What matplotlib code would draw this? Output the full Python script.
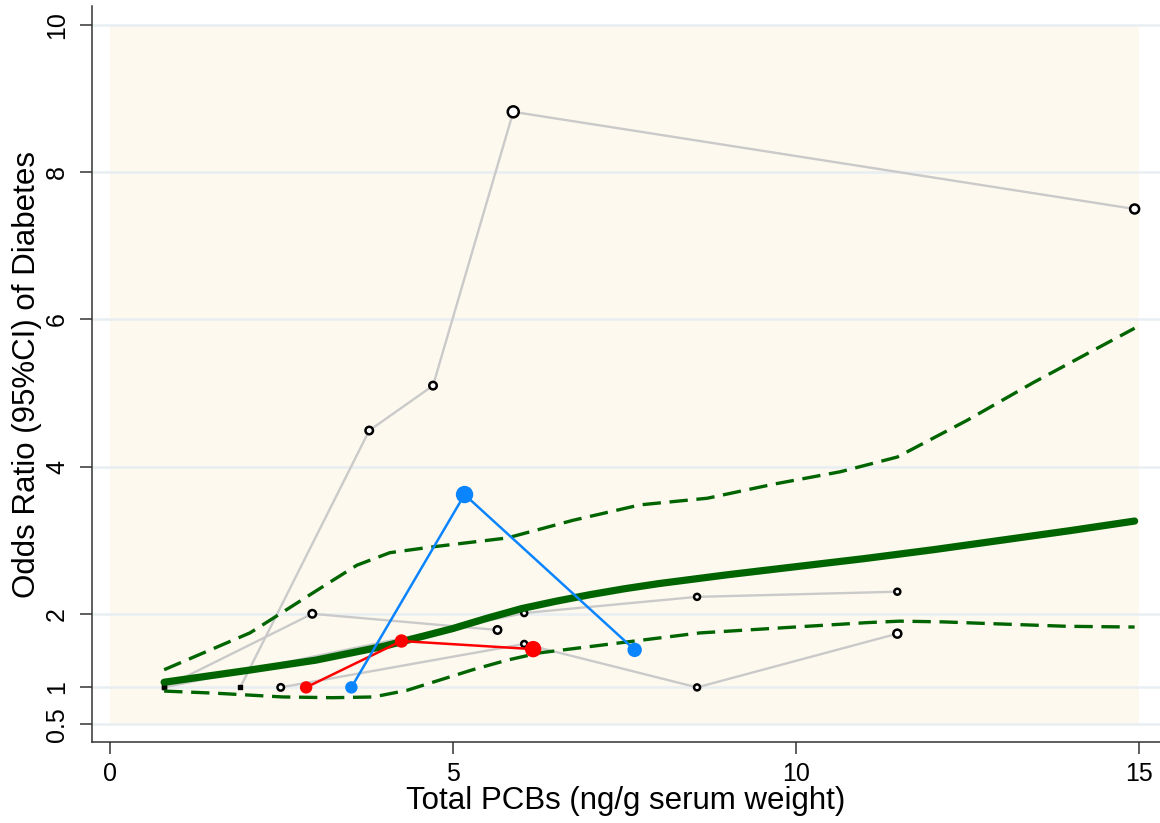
## Odds ratio of diabetes vs total PCBs
import numpy as np
import matplotlib.pyplot as plt
from matplotlib.patches import Rectangle

plt.rcParams['font.family'] = ['Liberation Sans', 'DejaVu Sans']

## gray study curves
s1_x = [1.90, 3.78, 4.71, 5.88, 14.94]
s1_y = [1.0, 4.49, 5.10, 8.82, 7.50]
s2_x = [0.79, 2.95, 5.65]
s2_y = [1.0, 2.0, 1.78]
s3_x = [0.79, 6.04, 8.56, 11.48]
s3_y = [1.0, 2.01, 2.23, 2.30]
s4_x = [2.49, 6.04, 8.56, 11.48]
s4_y = [1.0, 1.59, 1.0, 1.73]

## highlighted curves
red_x = [2.86, 4.25, 6.17]
red_y = [1.0, 1.63, 1.52]
blue_x = [3.52, 5.17, 7.65]
blue_y = [1.0, 3.62, 1.51]

## pooled fit and 95% CI
fit_x = [0.79, 2.0, 3.0, 4.0, 5.0, 5.5, 6.0, 6.5, 7.0, 7.5, 8.0, 9.0, 10.0, 11.0, 12.0, 13.0, 14.0, 14.94]
fit_y = [1.07, 1.23, 1.37, 1.56, 1.80, 1.94, 2.07, 2.17, 2.26, 2.34, 2.41, 2.53, 2.64, 2.75, 2.87, 3.0, 3.13, 3.26]
up_x = [0.79, 2.04, 2.38, 3.02, 3.6, 4.08, 4.71, 5.79, 6.75, 7.73, 8.71, 9.67, 10.65, 11.48, 12.5, 13.46, 14.94]
up_y = [1.24, 1.74, 1.94, 2.32, 2.66, 2.83, 2.91, 3.03, 3.27, 3.48, 3.57, 3.76, 3.93, 4.13, 4.63, 5.14, 5.88]
lo_x = [0.79, 1.56, 2.52, 3.25, 3.84, 4.33, 4.81, 5.29, 5.79, 6.27, 7.39, 8.6, 9.81, 11.04, 11.52, 12.15, 12.73, 13.95, 14.94]
lo_y = [0.95, 0.92, 0.87, 0.86, 0.87, 0.96, 1.10, 1.24, 1.37, 1.47, 1.60, 1.74, 1.81, 1.88, 1.90, 1.89, 1.87, 1.83, 1.82]

xticks = [0, 5, 10, 15]
yticks = [0.5, 1, 2, 4, 6, 8, 10]
ytick_labels = ['0.5', '1', '2', '4', '6', '8', '10']

fig = plt.figure(figsize=(11.6, 8.23), dpi=100)
ax = fig.add_axes([92/1160, 1-742/823, 1-92/1160, (742-6)/823])

ax.set_xlim(-0.262, 15.31)
ax.set_ylim(0.258, 10.258)

## cream plot region
ax.add_patch(Rectangle((0, 0.5), 15, 9.5, facecolor='#fdf9ee', edgecolor='none', zorder=0))
for yv in yticks:
    ax.axhline(yv, color='#e8eef1', lw=1.8, zorder=1)

gray = '#cacaca'
def gray_series(xs, ys, sizes, first_square=True):
    ax.plot(xs, ys, color=gray, lw=1.7, zorder=2)
    px = (np.array(sizes) * 0.72) ** 2
    if first_square:
        ax.scatter(xs[:1], ys[:1], marker='s', s=(4.5*0.72)**2, color='black', zorder=3)
        ax.scatter(xs[1:], ys[1:], s=px[1:], facecolor='white', edgecolor='black', linewidth=1.8, zorder=3)
    else:
        ax.scatter(xs, ys, s=px, facecolor='white', edgecolor='black', linewidth=1.8, zorder=3)

gray_series(s1_x, s1_y, [4, 7.5, 7.5, 11, 9])
gray_series(s2_x, s2_y, [4, 7.5, 7.5])
gray_series(s3_x, s3_y, [4, 6, 6, 6])
gray_series(s4_x, s4_y, [6.5, 6, 6, 8], first_square=False)

## pooled curve
green = '#006400'
ax.plot(fit_x, fit_y, color=green, lw=5.2, solid_capstyle='round', solid_joinstyle='round', zorder=4)
ax.plot(up_x, up_y, color=green, lw=2.4, dashes=(5.5, 2.6), zorder=4)
ax.plot(lo_x, lo_y, color=green, lw=2.4, dashes=(5.5, 2.6), zorder=4)

## red and blue studies
ax.plot(red_x, red_y, color='#ff0000', lw=1.8, zorder=5)
ax.scatter(red_x, red_y, s=(np.array([11, 12, 15]) * 0.72) ** 2, color='#ff0000', zorder=6)
ax.plot(blue_x, blue_y, color='#0a84ff', lw=1.8, zorder=5)
ax.scatter(blue_x, blue_y, s=(np.array([11, 16, 13]) * 0.72) ** 2, color='#0a84ff', zorder=6)

## axes styling
for side in ['top', 'right']:
    ax.spines[side].set_visible(False)
for side in ['left', 'bottom']:
    ax.spines[side].set_color('#333333')
    ax.spines[side].set_linewidth(1.1)

ax.set_xticks(xticks)
ax.set_xticklabels([str(t) for t in xticks], fontsize=18)
ax.set_yticks(yticks)
ax.set_yticklabels(ytick_labels, fontsize=18, rotation=90, va='center')
ax.tick_params(axis='both', direction='out', length=8.5, width=1.1, color='#333333')
ax.tick_params(axis='x', pad=6)
ax.tick_params(axis='y', pad=8)

ax.set_xlabel('Total PCBs (ng/g serum weight)', fontsize=22.5, labelpad=0)
ax.set_ylabel('Odds Ratio (95%CI) of Diabetes', fontsize=22.5, labelpad=2)

fig.savefig('out.png', dpi=100)
